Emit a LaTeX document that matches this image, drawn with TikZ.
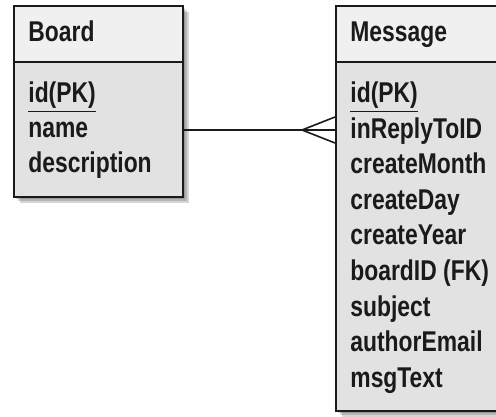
\documentclass[tikz,border=0pt]{standalone}
\usepackage{fontspec}
\setmainfont{Liberation Sans}[FakeStretch=0.8]
\usepackage{xcolor}
\definecolor{erink}{HTML}{1A1A1A}
\definecolor{erhead}{HTML}{F0F0F0}
\definecolor{erbody}{HTML}{E2E2E2}

\begin{document}
\begin{tikzpicture}[
  x=0.5pt,
  y=-0.5pt,
  every node/.style={font=\fontsize{14.3}{16}\selectfont\bfseries, erink},
  boxshadow/.style={black, opacity=0.16},
  bodybox/.style={draw=erink, line width=1pt, fill=erbody,
                  anchor=north west, inner sep=0pt},
  headtext/.style={anchor=base west, inner sep=0pt},
  attr/.style={anchor=base west, inner sep=0pt},
  rel/.style={erink, line width=0.8pt}
]
  \useasboundingbox (0,0) rectangle (496,416);
  \clip (0,0) rectangle (496,416);

  % ---- Board ---------------------------------------------------------------
  % soft shadow: three layers, each a little further out
  \foreach \d in {3,5,7}
    \fill[boxshadow] (13+\d,5+\d) rectangle (182+\d,196+\d);
  \node[bodybox, minimum width=84.5pt, minimum height=67.5pt]
    (boardBody) at (13,61) {};
  \node[bodybox, fill=erhead, minimum width=84.5pt, minimum height=28pt]
    (boardHead) at (13,5) {};
  \node[headtext] (boardName) at (28,41.5) {Board};
  \foreach \t [count=\i] in {\underline{id(PK)}, name, description}
    \node[attr] (board-\i) at (28,{102.5+35*(\i-1)}) {\t};

  % ---- Message -------------------------------------------------------------
  \foreach \d in {3,5,7}
    \fill[boxshadow] (335+\d,5+\d) rectangle (520+\d,410+\d);
  \node[bodybox, minimum width=88pt, minimum height=174.5pt]
    (msgBody) at (335,61) {};
  \node[bodybox, fill=erhead, minimum width=88pt, minimum height=28pt]
    (msgHead) at (335,5) {};
  \node[headtext] (msgName) at (350,41.5) {Message};
  \foreach \t [count=\i] in {\underline{id(PK)}, inReplyToID, createMonth,
      createDay, createYear, boardID (FK), subject, authorEmail, msgText}
    \node[attr] (msg-\i) at (350,{102.5+35.6*(\i-1)}) {\t};

  % ---- one board, many messages --------------------------------------------
  \coordinate (link) at (0,130);
  \coordinate (foot) at (302,130);
  \draw[rel] (boardBody.east |- link) -- (msgBody.west |- link);
  \draw[rel] (foot) -- ([yshift=6.5pt]msgBody.west |- link);
  \draw[rel] (foot) -- ([yshift=-6.5pt]msgBody.west |- link);
\end{tikzpicture}
\end{document}
